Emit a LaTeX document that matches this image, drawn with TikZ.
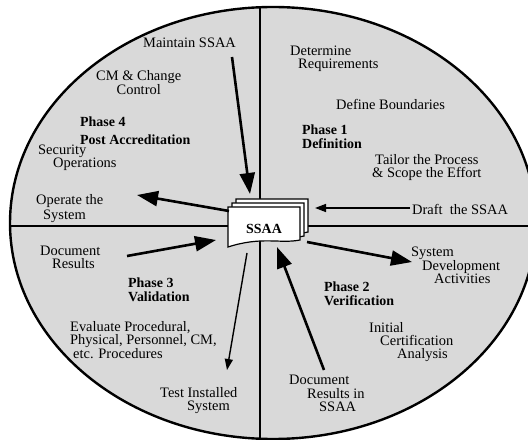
\documentclass[tikz,border=0pt]{standalone}
\usepackage{fontspec}
\setmainfont{Liberation Serif}
\usetikzlibrary{arrows.meta}

\begin{document}
\begin{tikzpicture}[
  x=1bp, y=-1bp,
  font=\fontsize{14.5}{13}\selectfont,
  txt/.style={anchor=north west, inner sep=0pt, align=left},
  ctxt/.style={anchor=north west, inner sep=0pt, align=center},
  phase/.style={anchor=north west, inner sep=0pt, align=left, font=\fontsize{14}{13.5}\selectfont\bfseries},
  sheet/.style={draw, line width=1.2bp, fill=white},
  fl/.style={-{Triangle[length=21bp,width=15bp]}, line width=2.6bp},
  tfl/.style={-{Triangle[length=11bp,width=8bp]}, line width=1.4bp}
]
\useasboundingbox (0,0) rectangle (528,440);
\clip (0,0) rectangle (528,440);

% ---------- the lifecycle ellipse ----------
\fill[white] (0,0) rectangle (528,440);
\draw[line width=2.4bp, fill=black!15] (273,223) ellipse [x radius=263, y radius=216];
\begin{scope}
  \clip (273,223) ellipse [x radius=263, y radius=216];
  \draw[line width=1.8bp] (260,0) -- (260,440);
  \draw[line width=1.8bp] (0,226) -- (528,226);
\end{scope}

% ---------- SSAA document stack ----------
\draw[sheet] (236,199) -- (308,199) -- (308,232) .. controls (290,236) and (272,230) .. (236,238) -- cycle;
\draw[sheet] (232,203) -- (304,203) -- (304,236) .. controls (286,240) and (268,234) .. (232,242) -- cycle;
\draw[sheet] (228,207) -- (300,207) -- (300,240) .. controls (280,244) and (262,236) .. (228,247) -- cycle;
\node[font=\fontsize{14}{14}\selectfont\bfseries] (ssaa) at (264,229) {SSAA};

% ---------- phase 4 ----------
\node[txt]   (maint) at (143,38)  {Maintain SSAA};
\node[ctxt]  (cm)    at (96,70)   {CM \& Change\\Control};
\node[phase, font=\fontsize{14}{18}\selectfont\bfseries]
             (ph4)   at (80,117)  {Phase 4\\Post Accreditation};
\node[txt]   (secop) at (38,145)  {Security\\\hspace*{15bp}Operations};
\node[txt, font=\fontsize{14.5}{15}\selectfont]
             (oper)  at (36,194)  {Operate the\\\hspace*{7bp}System};

% ---------- phase 1 ----------
\node[txt]   (det)   at (290,46)  {Determine\\\hspace*{8bp}Requirements};
\node[txt]   (defb)  at (336,99)  {Define Boundaries};
\node[phase] (ph1)   at (302,125) {Phase 1\\Definition};
\node[txt]   (tail)  at (372,154) {\hspace*{3bp}Tailor the Process\\\& Scope the Effort};
\node[txt]   (draft) at (412,204) {Draft\enspace the SSAA};

% ---------- phase 3 ----------
\node[txt]   (docr)  at (40,246)  {Document\\\hspace*{12bp}Results};
\node[phase] (ph3)   at (128,278) {Phase 3\\Validation};
\node[txt]   (eval)  at (70,321)  {Evaluate Procedural,\\Physical, Personnel, CM,\\\hspace*{3bp}etc. Procedures};
\node[txt]   (test)  at (160,387) {Test Installed\\\hspace*{27bp}System};

% ---------- phase 2 ----------
\node[txt]   (sysd)  at (411,247) {System\\\hspace*{11bp}Development\\\hspace*{23bp}Activities};
\node[phase] (ph2)   at (324,282) {Phase 2\\Verification};
\node[txt]   (init)  at (369,322) {Initial\\\hspace*{11bp}Certification\\\hspace*{28bp}Analysis};
\node[txt, font=\fontsize{14.5}{13.5}\selectfont]
             (docs)  at (289,375) {Document\\\hspace*{18bp}Results in\\\hspace*{30bp}SSAA};

% ---------- arrows to and from the SSAA ----------
\coordinate (maint-end) at (232,57);
\coordinate (maint-tip) at (250,194);
\coordinate (oper-end)  at (229,211);
\coordinate (oper-tip)  at (137,195);
\coordinate (draft-end) at (410,208);
\coordinate (draft-tip) at (315,208);
\coordinate (docr-end)  at (127,256);
\coordinate (docr-tip)  at (216,240);
\coordinate (test-end)  at (247,253);
\coordinate (test-tip)  at (227,370);
\coordinate (sysd-end)  at (307,242);
\coordinate (sysd-tip)  at (412,262);
\coordinate (docs-end)  at (324,370);
\coordinate (docs-tip)  at (277,247);

\draw[fl]  (maint-end) -- (maint-tip);
\draw[fl]  (oper-end)  -- (oper-tip);
\draw[tfl] (draft-end) -- (draft-tip);
\draw[fl]  (docr-end)  -- (docr-tip);
\draw[tfl] (test-end)  -- (test-tip);
\draw[fl]  (sysd-end)  -- (sysd-tip);
\draw[fl]  (docs-end)  -- (docs-tip);

\end{tikzpicture}
\end{document}
